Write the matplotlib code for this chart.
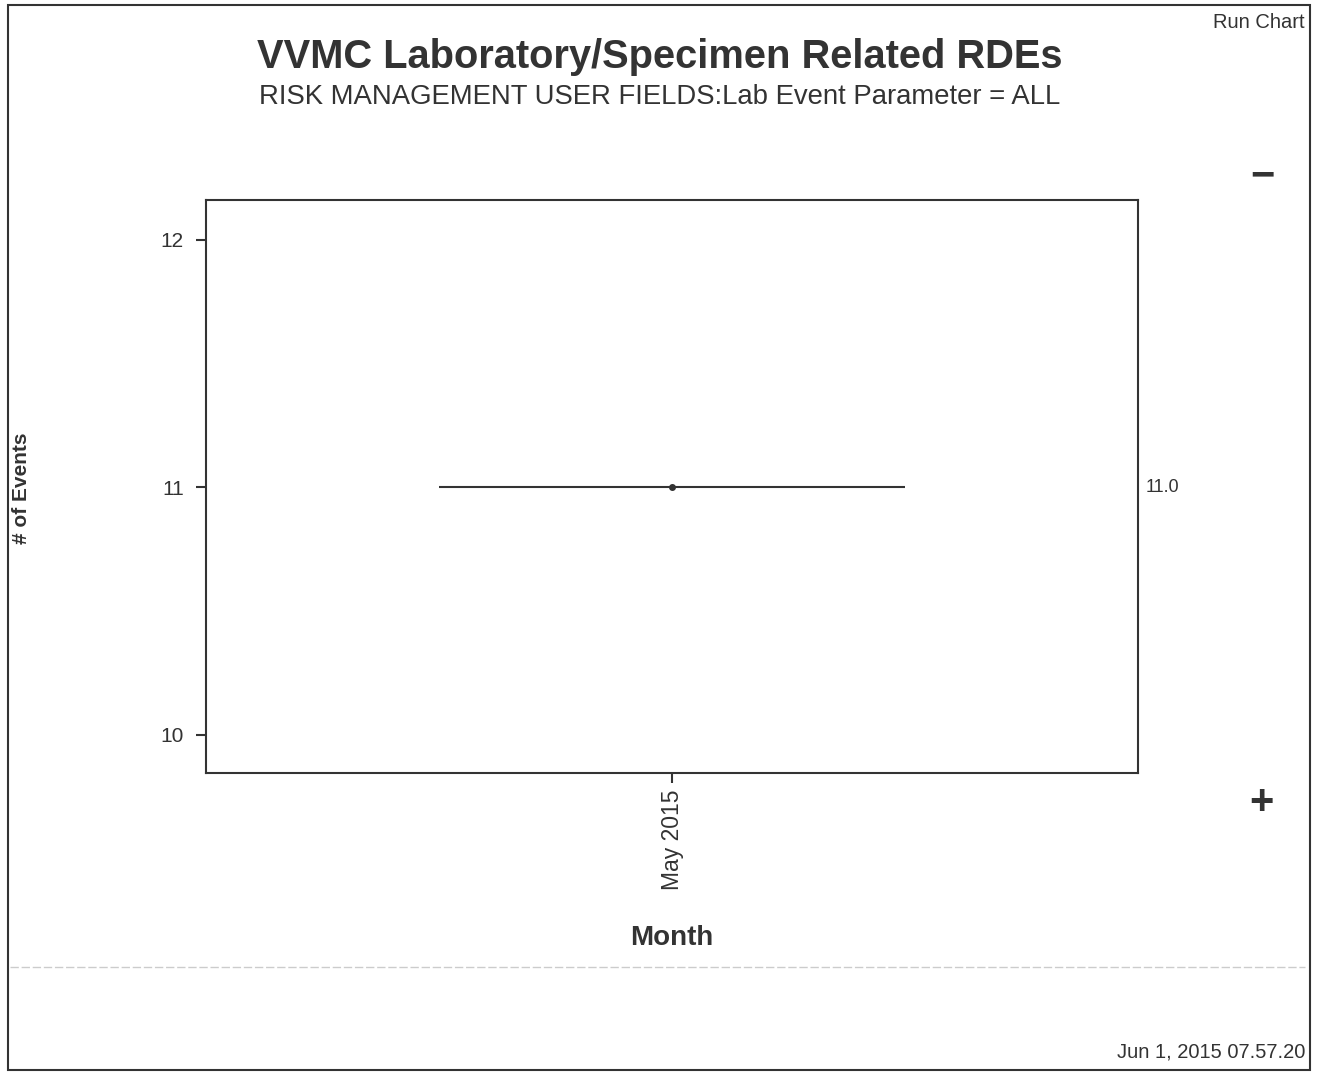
import matplotlib.pyplot as plt
from matplotlib.patches import Rectangle
from matplotlib.lines import Line2D
from matplotlib.transforms import blended_transform_factory

plt.rcParams['font.family'] = ['Liberation Sans', 'DejaVu Sans']

# data
months = ['May 2015']
events = [11]
center_value = 11.0
y_ticks = [10, 11, 12]

W, H = 1319, 1072
DARK = '#333333'
fig = plt.figure(figsize=(W / 100, H / 100), dpi=100)

# outer frame
fig.patches.append(Rectangle((8 / W, 2 / H), 1302 / W, 1065 / H, transform=fig.transFigure,
                             fill=False, edgecolor=DARK, linewidth=1.5))
# light dashed separator above footer
fig.lines.append(Line2D([10 / W, 1305 / W], [1 - 967 / H, 1 - 967 / H], transform=fig.transFigure,
                        color='#cccccc', linewidth=1, linestyle=(0, (6, 2))))

ax = fig.add_axes([206 / W, 1 - 773 / H, (1138 - 206) / W, (773 - 200) / H])
x = list(range(len(months)))
ax.plot(x, events, color=DARK, marker='o', markersize=4, linewidth=1.5)
ax.hlines(center_value, -0.5, len(months) - 0.5, color=DARK, linewidth=1.5)
ax.set_xlim(-1, len(months))
ax.set_ylim(9.846, 12.16)
ax.set_yticks(y_ticks)
ax.set_yticklabels([str(v) for v in y_ticks], fontsize=15, color=DARK)
ax.set_xticks(x)
ax.set_xticklabels(months, rotation=90, fontsize=16.5, color=DARK)
ax.tick_params(length=7, width=1.5, color=DARK)
ax.tick_params(axis='y', pad=9)
ax.tick_params(axis='x', pad=5)
for s in ax.spines.values():
    s.set_linewidth(1.5)
    s.set_color(DARK)
ax.set_xlabel('Month', fontsize=20, fontweight='bold', color=DARK, labelpad=25)

# center line value label on the right
tr = blended_transform_factory(fig.transFigure, ax.transData)
ax.text(1146 / W, center_value, '%.1f' % center_value, transform=tr, fontsize=13,
        color=DARK, va='center', ha='left')

# titles and annotations
fig.text(660 / W, 1 - 57 / H, 'VVMC Laboratory/Specimen Related RDEs', fontsize=28.7,
         fontweight='bold', color=DARK, ha='center', va='center')
fig.text(660 / W, 1 - 97 / H, 'RISK MANAGEMENT USER FIELDS:Lab Event Parameter = ALL',
         fontsize=19.8, color=DARK, ha='center', va='center')
fig.text(1305 / W, 1 - 22 / H, 'Run Chart', fontsize=14.5, color=DARK, ha='right', va='center')
fig.text(22 / W, 1 - 488 / H, '# of Events', fontsize=15, fontweight='bold', color=DARK,
         rotation=90, ha='center', va='center')
fig.text(1305 / W, 1 - 1052 / H, 'Jun 1, 2015 07.57.20', fontsize=14.5, color=DARK,
         ha='right', va='center')
fig.text(1262 / W, 1 - 176 / H, '\u2212', fontsize=30, fontweight='bold', color=DARK,
         ha='center', va='center')
fig.text(1261 / W, 1 - 803 / H, '+', fontsize=30, fontweight='bold', color=DARK,
         ha='center', va='center')

fig.savefig('out.png', dpi=100)
